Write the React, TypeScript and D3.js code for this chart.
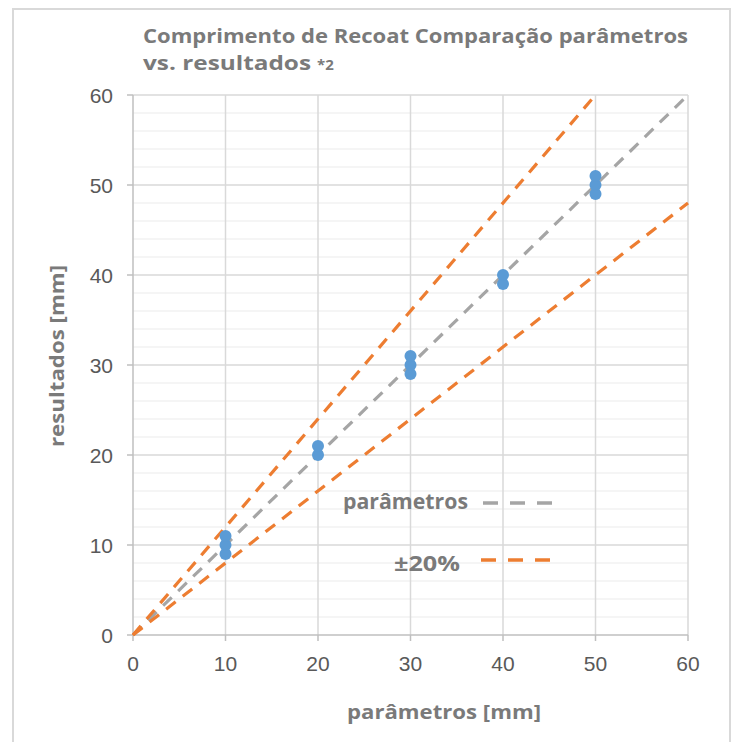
import React from 'react';
import * as d3 from 'd3';

// scatter measurements (parâmetros -> resultados)
const pointX = [10, 10, 10, 20, 20, 30, 30, 30, 40, 40, 50, 50, 50];
const pointY = [9, 10, 11, 20, 21, 29, 30, 31, 39, 40, 49, 50, 51];

// reference lines
const refX = [0, 60];
const refY = [0, 60];
const upperX = [0, 50];
const upperY = [0, 60];
const lowerX = [0, 60];
const lowerY = [0, 48];

const ticks = [0, 10, 20, 30, 40, 50, 60];
const minorTicks = d3.range(0, 61, 2).filter(v => v % 10 !== 0);

const W = 734;
const H = 742;
const margin = { top: 95, right: 46, bottom: 107, left: 133 };

const GRAY_TEXT = '#7a7a7a';
const TICK_TEXT = '#595959';
const ORANGE = '#ed7d31';
const GRAYLINE = '#a5a5a5';
const BLUE = '#5b9bd5';
const TITLE_FONT = "'Open Sans', Lato, sans-serif";
const TICK_FONT = "'Liberation Sans', Arial, sans-serif";

const App: React.FC = () => {
  const x = d3.scaleLinear().domain([0, 60]).range([margin.left, W - margin.right]);
  const y = d3.scaleLinear().domain([0, 60]).range([H - margin.bottom, margin.top]);

  const line = d3.line<[number, number]>()
    .x(d => x(d[0]))
    .y(d => y(d[1]));

  const zip = (xs: number[], ys: number[]) => xs.map((v, i) => [v, ys[i]] as [number, number]);

  const x0 = x(0), x1 = x(60), y0 = y(0), y1 = y(60);

  return (
    <svg
      width={W}
      height={H}
      style={{ position: 'absolute', left: 0, top: 0, background: '#fff' }}
    >
      <rect x={13} y={9} width={717} height={745} fill="#fff" stroke="#d9d9d9" strokeWidth={2} />

      {/* title */}
      <text fontFamily={TITLE_FONT} fontWeight="bold" fill={GRAY_TEXT} fontSize={19.5}>
        <tspan x={143} y={43} textLength={545} lengthAdjust="spacingAndGlyphs">Comprimento de Recoat Comparação parâmetros</tspan>
      </text>
      <text fontFamily={TITLE_FONT} fontWeight="bold" fill={GRAY_TEXT} fontSize={19.5}>
        <tspan x={143} y={70} textLength={168} lengthAdjust="spacingAndGlyphs">vs. resultados</tspan>
        <tspan x={317} y={70} fontSize={15}>*2</tspan>
      </text>

      {/* minor gridlines */}
      {minorTicks.map(t => (
        <line key={'m' + t} x1={x0} x2={x1} y1={y(t)} y2={y(t)} stroke="#f2f2f2" strokeWidth={1.5} />
      ))}
      {/* major gridlines */}
      {ticks.filter(t => t > 0).map(t => (
        <line key={'gy' + t} x1={x0} x2={x1} y1={y(t)} y2={y(t)} stroke="#d9d9d9" strokeWidth={1.5} />
      ))}
      {ticks.filter(t => t > 0).map(t => (
        <line key={'gx' + t} x1={x(t)} x2={x(t)} y1={y0} y2={y1} stroke="#d9d9d9" strokeWidth={1.5} />
      ))}

      {/* axes */}
      <line x1={x0} x2={x0} y1={y1} y2={y0} stroke="#bfbfbf" strokeWidth={1.5} />
      <line x1={x0} x2={x1} y1={y0} y2={y0} stroke="#bfbfbf" strokeWidth={1.5} />
      {ticks.map(t => (
        <line key={'ty' + t} x1={x0 - 6} x2={x0} y1={y(t)} y2={y(t)} stroke="#bfbfbf" strokeWidth={1.5} />
      ))}
      {ticks.map(t => (
        <line key={'tx' + t} x1={x(t)} x2={x(t)} y1={y0} y2={y0 + 6} stroke="#bfbfbf" strokeWidth={1.5} />
      ))}

      {/* tick labels */}
      {ticks.map(t => (
        <text key={'ly' + t} x={113} y={y(t)} dy="0.36em" textAnchor="end"
          fontFamily={TICK_FONT} fontSize={21} fill={TICK_TEXT}>{t}</text>
      ))}
      {ticks.map(t => (
        <text key={'lx' + t} x={x(t)} y={671} textAnchor="middle"
          fontFamily={TICK_FONT} fontSize={21} fill={TICK_TEXT}>{t}</text>
      ))}

      {/* axis titles */}
      <text x={347} y={719} fontFamily={TITLE_FONT} fontWeight="bold" fontSize={20} fill={GRAY_TEXT}
        textLength={194} lengthAdjust="spacingAndGlyphs">parâmetros [mm]</text>
      <text transform="translate(64,447) rotate(-90)" fontFamily={TITLE_FONT}
        fontWeight="bold" fontSize={20} fill={GRAY_TEXT} textLength={182} lengthAdjust="spacingAndGlyphs">resultados [mm]</text>

      {/* lines */}
      <path d={line(zip(refX, refY)) || ''} fill="none" stroke={GRAYLINE} strokeWidth={3.2} strokeDasharray="12 9" />
      <path d={line(zip(upperX, upperY)) || ''} fill="none" stroke={ORANGE} strokeWidth={3.2} strokeDasharray="12 9" />
      <path d={line(zip(lowerX, lowerY)) || ''} fill="none" stroke={ORANGE} strokeWidth={3.2} strokeDasharray="12 9" />

      {/* points */}
      {pointX.map((px, i) => (
        <circle key={'p' + i} cx={x(px)} cy={y(pointY[i])} r={6} fill={BLUE} />
      ))}

      {/* legend */}
      <text x={343} y={509} fontFamily={TITLE_FONT}
        fontWeight="bold" fontSize={21} fill={GRAY_TEXT} textLength={125} lengthAdjust="spacingAndGlyphs">parâmetros</text>
      <line x1={483} x2={555} y1={503} y2={503} stroke={GRAYLINE} strokeWidth={3.5} strokeDasharray="15 12" />
      <text x={394} y={571} fontFamily={TITLE_FONT}
        fontWeight="bold" fontSize={22} fill={GRAY_TEXT} textLength={66} lengthAdjust="spacingAndGlyphs">±20%</text>
      <line x1={481} x2={555} y1={560} y2={560} stroke={ORANGE} strokeWidth={3.5} strokeDasharray="15 12" />
    </svg>
  );
};

export default App;
